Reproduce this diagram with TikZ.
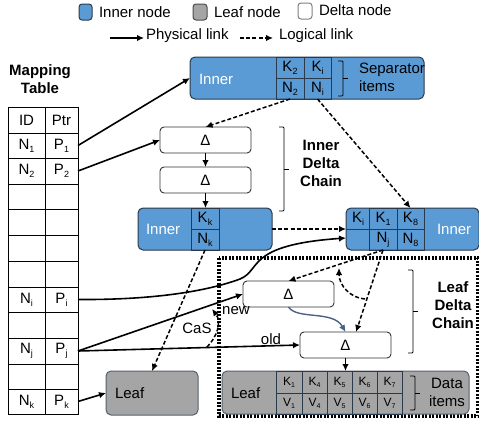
\documentclass[tikz,border=0pt]{standalone}
\usepackage{fontspec}
\setmainfont{Liberation Sans}
\usetikzlibrary{arrows.meta}
\definecolor{innerblue}{HTML}{5B9BD5}
\definecolor{leafgrey}{HTML}{A5A5A5}
\definecolor{edgedark}{HTML}{2B3A4A}
\definecolor{bluelink}{HTML}{4A6285}
\newcommand{\sbs}[1]{\raisebox{-0.35ex}{\fontsize{9}{9}\selectfont #1}}
\newcommand{\sbt}[1]{\raisebox{-0.3ex}{\fontsize{7}{7}\selectfont #1}}
% \bx{style}{name}{x1}{y1}{x2}{y2}{text}
\newcommand{\bx}[7]{\node[#1,minimum width={(#5-#3)*1pt},minimum height={(#6-#4)*1pt}] (#2) at ({(#3+#5)/2},{(#4+#6)/2}) {#7};}
\newcommand{\bracket}[3]{\draw[bracketline] (#1,#2) -- (#1+5,#2) -- (#1+5,#3) -- (#1,#3); \draw[bracketline] (#1+5,{(#2+#3)/2}) -- (#1+10,{(#2+#3)/2});}
\tikzset{
  every node/.style={inner sep=0pt,outer sep=0pt,font=\fontsize{15}{17}\selectfont},
  innerbox/.style={draw=edgedark,fill=innerblue,line width=1pt,rounded corners=5pt},
  leafbox/.style={draw=edgedark!80,fill=leafgrey,line width=1pt,rounded corners=5pt},
  deltabox/.style={draw=black!80,fill=white,line width=0.9pt,rounded corners=4pt},
  legendbox/.style={rounded corners=3pt,line width=1pt},
  cellk/.style={draw=edgedark,line width=0.9pt},
  tcell/.style={draw=black,line width=0.9pt},
  whitelabel/.style={text=white},
  boldlabel/.style={font=\fontsize{15}{18}\selectfont\bfseries,align=center},
  phys/.style={-{Latex[length=7pt,width=6.5pt]},line width=1.6pt,black},
  logi/.style={-{Latex[length=7pt,width=6.5pt]},line width=1.5pt,black,dash pattern=on 4pt off 2.2pt},
  bracketline/.style={line width=0.9pt,black,rounded corners=1pt},
  dotbox/.style={line width=3.2pt,black,dash pattern=on 2pt off 1.5pt},
  small/.style={font=\fontsize{12}{13}\selectfont},
}
\begin{document}
\begin{tikzpicture}[x=1pt,y=-1pt]
\useasboundingbox (0,0) rectangle (479,423);
% legend
\bx{legendbox,draw=edgedark,fill=innerblue}{lgi}{79}{4}{92}{20}{}
\node[anchor=west] (lgit) at (99,12) {Inner node};
\bx{legendbox,draw=black!70,fill=leafgrey}{lgl}{193}{4}{207}{20}{}
\node[anchor=west] (lglt) at (214,12) {Leaf node};
\bx{legendbox,draw=black!50,fill=white}{lgd}{298}{3}{312}{19}{}
\node[anchor=west] (lgdt) at (319,10) {Delta node};
\coordinate (phA) at (110,38); \coordinate (phB) at (144,38);
\coordinate (loA) at (240,38); \coordinate (loB) at (273,38);
\node[anchor=west] (phT) at (146,36) {Physical link};
\node[anchor=west] (loT) at (279,36) {Logical link};
\node[boldlabel] (mt) at (40,79) {Mapping\\Table};
% mapping table
\bx{tcell}{idh}{8}{107}{45}{133}{ID}
\bx{tcell}{ptrh}{45}{107}{78}{133}{Ptr}
\bx{tcell}{n1}{8}{133}{45}{158}{N\sbs{1}}
\bx{tcell}{p1}{45}{133}{78}{158}{P\sbs{1}}
\bx{tcell}{n2}{8}{158}{45}{184}{N\sbs{2}}
\bx{tcell}{p2}{45}{158}{78}{184}{P\sbs{2}}
\bx{tcell}{e1a}{8}{184}{45}{209}{}
\bx{tcell}{e1b}{45}{184}{78}{209}{}
\bx{tcell}{e2a}{8}{209}{45}{235}{}
\bx{tcell}{e2b}{45}{209}{78}{235}{}
\bx{tcell}{e3a}{8}{235}{45}{261}{}
\bx{tcell}{e3b}{45}{235}{78}{261}{}
\bx{tcell}{e4a}{8}{261}{45}{287}{}
\bx{tcell}{e4b}{45}{261}{78}{287}{}
\bx{tcell}{ni}{8}{287}{45}{312}{N\sbs{i}}
\bx{tcell}{pi}{45}{287}{78}{312}{P\sbs{i}}
\bx{tcell}{e5a}{8}{312}{45}{338}{}
\bx{tcell}{e5b}{45}{312}{78}{338}{}
\bx{tcell}{nj}{8}{338}{45}{364}{N\sbs{j}}
\bx{tcell}{pj}{45}{338}{78}{364}{P\sbs{j}}
\bx{tcell}{e6a}{8}{364}{45}{389}{}
\bx{tcell}{e6b}{45}{364}{78}{389}{}
\bx{tcell}{nk}{8}{389}{45}{414}{N\sbs{k}}
\bx{tcell}{pk}{45}{389}{78}{414}{P\sbs{k}}
% top inner node
\bx{innerbox}{top}{190}{57}{424}{99}{}
\node[whitelabel,anchor=west] (topl) at (199,79) {Inner};
\bx{cellk}{tk2}{276}{57}{304}{78}{K\sbs{2}}
\bx{cellk}{tki}{304}{57}{331}{78}{K\sbs{i}}
\bx{cellk}{tn2}{276}{78}{304}{99}{N\sbs{2}}
\bx{cellk}{tni}{304}{78}{331}{99}{N\sbs{i}}
\bracket{338}{61}{96}
\node[anchor=west,align=left,font=\fontsize{15}{18}\selectfont] (sep) at (359,77) {Separator\\items};
% inner delta chain
\bx{deltabox}{d1}{160}{127}{251}{153}{Δ}
\bx{deltabox}{d2}{160}{167}{251}{193}{Δ}
\bracket{279}{127}{211}
\node[boldlabel] (idc) at (321,163) {Inner\\Delta\\Chain};
% inner k
\bx{innerbox}{ik}{138}{208}{272}{250}{}
\node[whitelabel,anchor=west] (ikl) at (146,229) {Inner};
\bx{cellk}{kk}{191}{208}{219}{229}{K\sbs{k}}
\bx{cellk}{nkk}{191}{229}{219}{250}{N\sbs{k}}
% inner right
\bx{innerbox}{ir}{346}{208}{479}{250}{}
\node[whitelabel,anchor=west] (irl) at (437,229) {Inner};
\node (rkit) at (358,219) {K\sbs{i}};
\draw[cellk] (346,229) -- (369,229);
\bx{cellk}{rk1}{369}{208}{397}{229}{K\sbs{1}}
\bx{cellk}{rnj}{369}{229}{397}{250}{N\sbs{j}}
\bx{cellk}{rk8}{397}{208}{424}{229}{K\sbs{8}}
\bx{cellk}{rn8}{397}{229}{424}{250}{N\sbs{8}}
\coordinate (irIn) at (346,238);
% leaf left
\bx{leafbox}{lf}{106}{371}{198}{415}{}
\node[anchor=west] (lfl) at (115,393) {Leaf};
% dotted frame
\draw[dotbox] (219,258) rectangle (478,416);
% leaf delta chain
\bx{deltabox}{d3}{243}{281}{334}{307}{Δ}
\bx{deltabox}{d4}{300}{332}{391}{358}{Δ}
\coordinate (d4top) at (356,332);
\bracket{408}{270}{353}
\node[boldlabel] (ldc) at (453,305) {Leaf\\Delta\\Chain};
% leaf right
\bx{leafbox}{lr}{222}{371}{469}{414}{}
\node[anchor=west] (lrl) at (231,393) {Leaf};
\bx{cellk,small}{c1}{276}{371}{302}{393}{K\sbt{1}}
\bx{cellk,small}{c2}{302}{371}{327}{393}{K\sbt{4}}
\bx{cellk,small}{c3}{327}{371}{352}{393}{K\sbt{5}}
\bx{cellk,small}{c4}{352}{371}{377}{393}{K\sbt{6}}
\bx{cellk,small}{c5}{377}{371}{402}{393}{K\sbt{7}}
\bx{cellk,small}{v1}{276}{393}{302}{414}{V\sbt{1}}
\bx{cellk,small}{v2}{302}{393}{327}{414}{V\sbt{4}}
\bx{cellk,small}{v3}{327}{393}{352}{414}{V\sbt{5}}
\bx{cellk,small}{v4}{352}{393}{377}{414}{V\sbt{6}}
\bx{cellk,small}{v5}{377}{393}{402}{414}{V\sbt{7}}
\bracket{410}{376}{410}
\node[align=center,font=\fontsize{15}{18}\selectfont] (di) at (447,392) {Data\\items};
% labels
\node (lnew) at (236,311) {new};
\node (lold) at (271,339) {old};
\node (lcas) at (197,328) {CaS};
\coordinate (casA) at (207,347); \coordinate (casB) at (212,309);
\coordinate (lgA) at (365,299); \coordinate (lgB) at (339,268);
% connectors
\draw[phys] (phA) -- (phB);
\draw[logi] (loA) -- (loB);
\draw[phys] (p1.east) -- (top.west);
\draw[phys] (p2.east) -- (d1.west);
\draw[logi] (tn2.south) -- (d1.north);
\draw[logi] (tni.south) -- (rk8.north);
\draw[phys] (d1.south) -- (d2.north);
\draw[phys] (d2.south) -- (d2.south |- ik.north);
\draw[logi] (ik.east) -- (ir.west);
\draw[logi] (nkk.south) -- (lf.north);
\draw[phys] (pi.east) .. controls (150,300) and (205,292) .. (240,279) .. controls (262,270) and (245,245) .. (irIn);
\draw[phys] (pj.east) -- (d3.west);
\draw[phys] (pj.east) -- (d4.west);
\draw[logi] (casA) .. controls (217,337) and (222,322) .. (casB);
\draw[logi] (rnj.south) -- (d3.north);
\draw[logi] (rnj.south) -- (d4top);
\draw[logi] (lgA) .. controls (350,298) and (339,285) .. (lgB);
\draw[-{Latex[length=7pt,width=6.5pt]},line width=1.4pt,bluelink] (d3.south) .. controls (297,320) and (333,310) .. (d4.north);
\draw[phys] (d4.south) -- (d4.south |- lr.north);
\draw[phys] (pk.east) -- (lf.west);
\end{tikzpicture}
\end{document}
